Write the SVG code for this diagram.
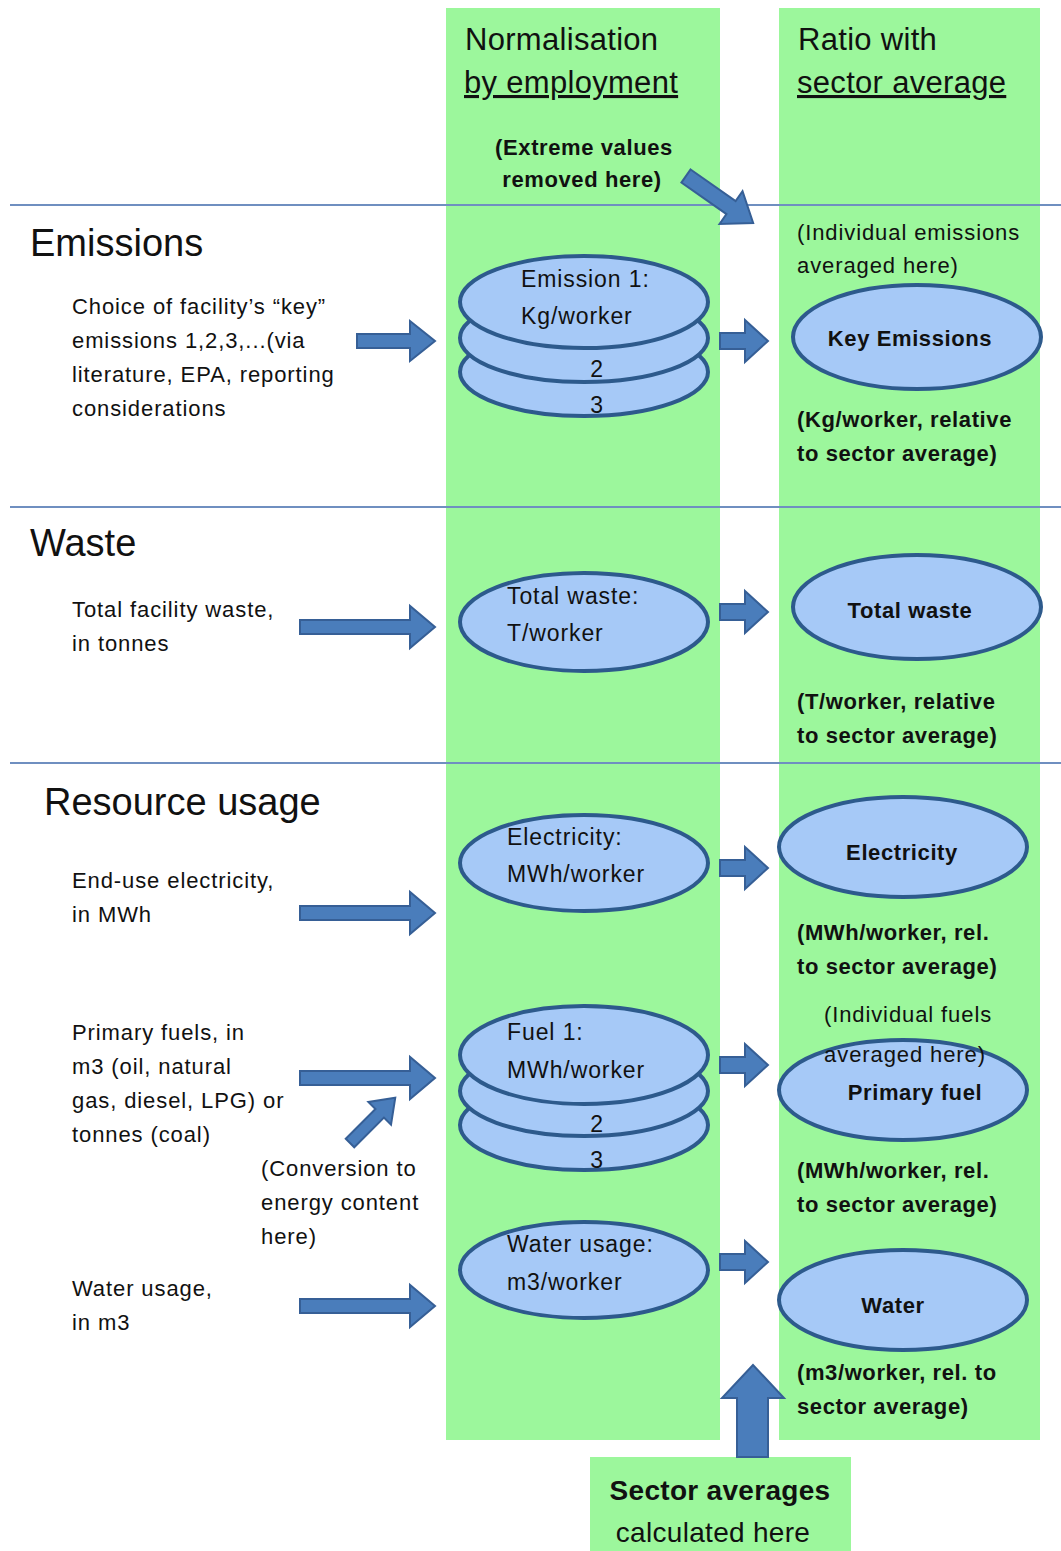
<svg xmlns="http://www.w3.org/2000/svg" width="1061" height="1551" viewBox="0 0 1061 1551">
<style>
text{font-family:"Liberation Sans","Open Sans",sans-serif;fill:#111}
.col{fill:#9cf79c}
.hl{stroke:#6f8fc0;stroke-width:2}
.ell{fill:#a6c9f7;stroke:#2d5a8c;stroke-width:4}
.arr{fill:#4a7dbb;stroke:#365f96;stroke-width:2}
.h1{font-size:31px;letter-spacing:0.3px}
.sec{font-size:38px}
.t{font-size:22px;letter-spacing:0.9px}
.b{font-size:22px;font-weight:bold;letter-spacing:0.6px}
.e{font-size:23px;letter-spacing:0.9px}
</style>
<g id="columns">
<rect class="col" x="446" y="8" width="274" height="1432"/>
<rect class="col" x="779" y="8" width="261" height="1432"/>
<rect class="col" x="590" y="1457" width="261" height="94"/>
</g>
<g id="dividers">
<line class="hl" x1="10" y1="205" x2="1061" y2="205"/>
<line class="hl" x1="10" y1="507" x2="1061" y2="507"/>
<line class="hl" x1="10" y1="763" x2="1061" y2="763"/>
</g>
<g id="header-normalisation">
<text class="h1" x="465" y="50">Normalisation</text>
<text class="h1" x="464" y="93" text-decoration="underline">by employment</text>
<text class="b" x="584" y="155" text-anchor="middle">(Extreme values</text>
<text class="b" x="582" y="187" text-anchor="middle">removed here)</text>
</g>
<g id="header-ratio">
<text class="h1" x="798" y="50">Ratio with</text>
<text class="h1" x="797" y="93" text-decoration="underline">sector average</text>
</g>
<g id="emissions-label">
<text class="sec" x="30" y="256">Emissions</text>
<text class="t" x="72" y="314">Choice of facility’s “key”</text>
<text class="t" x="72" y="348">emissions 1,2,3,...(via</text>
<text class="t" x="72" y="382">literature, EPA, reporting</text>
<text class="t" x="72" y="416">considerations</text>
</g>
<g id="emission-stack">
<ellipse class="ell" cx="584" cy="372" rx="124" ry="44"/>
<ellipse class="ell" cx="584" cy="338" rx="124" ry="44"/>
<ellipse class="ell" cx="584" cy="302" rx="124" ry="46"/>
<text class="e" x="521" y="287">Emission 1:</text>
<text class="e" x="521" y="324">Kg/worker</text>
<text class="e" x="597" y="377" text-anchor="middle">2</text>
<text class="e" x="597" y="413" text-anchor="middle">3</text>
</g>
<g id="key-emissions">
<text class="t" x="797" y="240">(Individual emissions</text>
<text class="t" x="797" y="273">averaged here)</text>
<ellipse class="ell" cx="917" cy="337" rx="124" ry="52"/>
<text class="b" x="910" y="346" text-anchor="middle">Key Emissions</text>
<text class="b" x="797" y="427">(Kg/worker, relative</text>
<text class="b" x="797" y="461">to sector average)</text>
</g>
<g id="waste-label">
<text class="sec" x="30" y="556">Waste</text>
<text class="t" x="72" y="617">Total facility waste,</text>
<text class="t" x="72" y="651">in tonnes</text>
</g>
<g id="waste-norm">
<ellipse class="ell" cx="584" cy="622" rx="124" ry="49"/>
<text class="e" x="507" y="604">Total waste:</text>
<text class="e" x="507" y="641">T/worker</text>
</g>
<g id="total-waste">
<ellipse class="ell" cx="917" cy="607" rx="124" ry="52"/>
<text class="b" x="910" y="618" text-anchor="middle">Total waste</text>
<text class="b" x="797" y="709">(T/worker, relative</text>
<text class="b" x="797" y="743">to sector average)</text>
</g>
<g id="resource-label">
<text class="sec" x="44" y="815">Resource usage</text>
<text class="t" x="72" y="888">End-use electricity,</text>
<text class="t" x="72" y="922">in MWh</text>
</g>
<g id="electricity-norm">
<ellipse class="ell" cx="584" cy="863" rx="124" ry="48"/>
<text class="e" x="507" y="845">Electricity:</text>
<text class="e" x="507" y="882">MWh/worker</text>
</g>
<g id="electricity">
<ellipse class="ell" cx="903" cy="847" rx="124" ry="50"/>
<text class="b" x="902" y="860" text-anchor="middle">Electricity</text>
<text class="b" x="797" y="940">(MWh/worker, rel.</text>
<text class="b" x="797" y="974">to sector average)</text>
</g>
<g id="fuels-label">
<text class="t" x="72" y="1040">Primary fuels, in</text>
<text class="t" x="72" y="1074">m3 (oil, natural</text>
<text class="t" x="72" y="1108">gas, diesel, LPG) or</text>
<text class="t" x="72" y="1142">tonnes (coal)</text>
</g>
<g id="conversion-note">
<text class="t" x="261" y="1176">(Conversion to</text>
<text class="t" x="261" y="1210">energy content</text>
<text class="t" x="261" y="1244">here)</text>
</g>
<g id="fuel-stack">
<ellipse class="ell" cx="584" cy="1125" rx="124" ry="45"/>
<ellipse class="ell" cx="584" cy="1091" rx="124" ry="45"/>
<ellipse class="ell" cx="584" cy="1055" rx="124" ry="49"/>
<text class="e" x="507" y="1040">Fuel 1:</text>
<text class="e" x="507" y="1078">MWh/worker</text>
<text class="e" x="597" y="1132" text-anchor="middle">2</text>
<text class="e" x="597" y="1168" text-anchor="middle">3</text>
</g>
<g id="primary-fuel">
<ellipse class="ell" cx="903" cy="1090" rx="124" ry="50"/>
<text class="t" x="908" y="1022" text-anchor="middle">(Individual fuels</text>
<text class="t" x="905" y="1062" text-anchor="middle">averaged here)</text>
<text class="b" x="915" y="1100" text-anchor="middle">Primary fuel</text>
<text class="b" x="797" y="1178">(MWh/worker, rel.</text>
<text class="b" x="797" y="1212">to sector average)</text>
</g>
<g id="water-label">
<text class="t" x="72" y="1296">Water usage,</text>
<text class="t" x="72" y="1330">in m3</text>
</g>
<g id="water-norm">
<ellipse class="ell" cx="584" cy="1270" rx="124" ry="48"/>
<text class="e" x="507" y="1252">Water usage:</text>
<text class="e" x="507" y="1290">m3/worker</text>
</g>
<g id="water">
<ellipse class="ell" cx="903" cy="1300" rx="124" ry="50"/>
<text class="b" x="893" y="1313" text-anchor="middle">Water</text>
<text class="b" x="797" y="1380">(m3/worker, rel. to</text>
<text class="b" x="797" y="1414">sector average)</text>
</g>
<g id="sector-averages">
<text x="720" y="1500" text-anchor="middle" font-size="28" font-weight="bold" letter-spacing="0.3">Sector averages</text>
<text x="713" y="1542" text-anchor="middle" font-size="28" letter-spacing="0.3">calculated here</text>
</g>
<g id="connectors">
<path class="arr" d="M357,334 H410 V321 L435,341 L410,361 V348 H357 Z"/>
<path class="arr" d="M720,333 H745 V320 L768,341 L745,362 V349 H720 Z"/>
<path class="arr" d="M300,620 H410 V606 L435,627 L410,648 V634 H300 Z"/>
<path class="arr" d="M720,604 H745 V591 L768,612 L745,633 V620 H720 Z"/>
<path class="arr" d="M300,906 H410 V892 L435,913 L410,934 V920 H300 Z"/>
<path class="arr" d="M720,860 H745 V847 L768,868 L745,889 V876 H720 Z"/>
<path class="arr" d="M300,1071 H410 V1057 L435,1078 L410,1099 V1085 H300 Z"/>
<path class="arr" d="M720,1057 H745 V1044 L768,1065 L745,1086 V1073 H720 Z"/>
<path class="arr" d="M300,1299 H410 V1285 L435,1306 L410,1327 V1313 H300 Z"/>
<path class="arr" d="M720,1254 H745 V1241 L768,1262 L745,1283 V1270 H720 Z"/>
<path class="arr" d="M737,1457 V1398 H722 L753,1365 L784,1398 H768 V1457 Z"/>
<path class="arr" transform="translate(686,176) rotate(35)" d="M0,-8 H55 V-20 L82,0 L55,20 V8 H0 Z"/>
<path class="arr" transform="translate(350,1143) rotate(-45)" d="M0,-6 H42 V-16 L64,0 L42,16 V6 H0 Z"/>
</g>
</svg>
